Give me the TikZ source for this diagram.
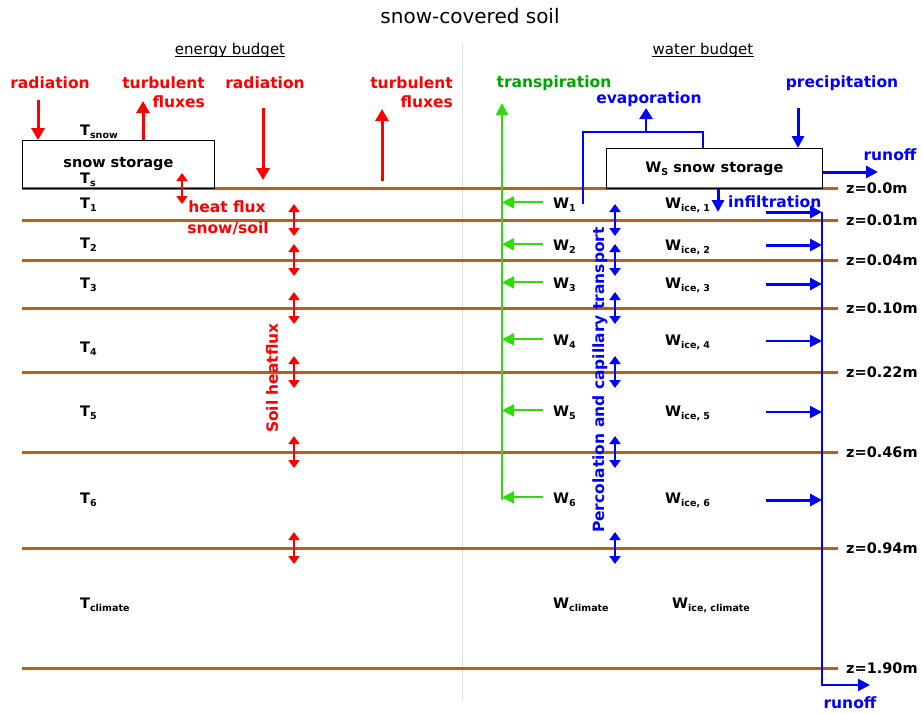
\documentclass[tikz,border=0pt]{standalone}
\usepackage{fontspec}
\setmainfont{DejaVu Sans}
\usetikzlibrary{arrows.meta,positioning}

\definecolor{soilbrown}{RGB}{181,96,28}
\definecolor{fluxred}{RGB}{255,0,0}
\definecolor{waterblue}{RGB}{0,0,255}
\definecolor{plantgreen}{RGB}{50,220,10}
\definecolor{labelgreen}{RGB}{0,165,0}

% small lowered index, as in T_1 or W_ice,1
\newcommand{\lowidx}[1]{\raisebox{-0.4ex}{\fontsize{9.5}{10}\selectfont #1}}

\begin{document}
\begin{tikzpicture}[x=1pt,y=-1pt,
	every node/.style={inner sep=0pt},
	blk/.style={font=\fontsize{14.5}{17}\selectfont\bfseries},
	redlbl/.style={text=fluxred,font=\fontsize{15.5}{19}\selectfont\bfseries,align=right},
	bluelbl/.style={text=waterblue,font=\fontsize{15.5}{19}\selectfont\bfseries},
	layer/.style={soilbrown,line width=3pt},
	heat/.style={fluxred,line width=3pt,-{Triangle[length=12pt,width=13pt]}},
	heatboth/.style={fluxred,line width=2pt,{Triangle[length=8pt,width=11pt]}-{Triangle[length=8pt,width=11pt]}},
	waterboth/.style={waterblue,line width=2pt,{Triangle[length=8pt,width=11pt]}-{Triangle[length=8pt,width=11pt]}},
	flow/.style={waterblue,line width=3pt,-{Triangle[length=12pt,width=12pt]}},
	thinflow/.style={waterblue,line width=2pt,-{Triangle[length=12pt,width=12pt]}},
	plant/.style={plantgreen,line width=2.2pt,-{Triangle[length=12pt,width=12pt]}},
	storage/.style={draw,line width=0.8pt,anchor=north west,blk}]

	\useasboundingbox (0,0) rectangle (923,713);

	% headings
	\node[font=\fontsize{20}{24}\selectfont] (title) at (470,16) {snow-covered soil};
	\node[font=\fontsize{15}{18}\selectfont] (ebud) at (230,50) {energy budget};
	\node[font=\fontsize{15}{18}\selectfont] (wbud) at (703,50) {water budget};
	\draw[line width=0.9pt] ([yshift=-2.5pt]ebud.base west) -- ([yshift=-2.5pt]ebud.base east);
	\draw[line width=0.9pt] ([yshift=-2.5pt]wbud.base west) -- ([yshift=-2.5pt]wbud.base east);

	% divider
	\draw[gray!25,line width=1pt] (462,44) -- (462,700);

	% soil layers and depths
	\foreach \y/\d [count=\i] in {188/0.0,220/0.01,260/0.04,308/0.10,372/0.22,452/0.46,548/0.94,668/1.90}{
		\draw[layer] (22,\y) -- (838,\y);
		\node[blk,anchor=west] (z\i) at (846,\y) {z=\d m};
	}

	% snow storages
	\node[storage,minimum width=192,minimum height=48] (snowL) at (22,140) {snow storage};
	\node[storage,minimum width=216,minimum height=40] (snowR) at (606,148)
		{W\lowidx{S} snow storage};

	% temperatures
	\node[blk,anchor=base west] (Tsnow) at (80,135) {T\lowidx{snow}};
	\node[blk,anchor=base west] (Ts) at (80,183) {T\lowidx{s}};
	\foreach \k/\y in {1/208,2/248,3/288,4/352,5/416,6/503}
		\node[blk,anchor=base west] (T\k) at (80,\y) {T\lowidx{\k}};
	\node[blk,anchor=base west] (Tclim) at (80,608) {T\lowidx{climate}};

	% water contents
	\foreach \k/\y in {1/208,2/250,3/288,4/345,5/416,6/503}{
		\node[blk,anchor=base west] (W\k) at (553,\y) {W\lowidx{\k}};
		\node[blk,anchor=base west] (Wice\k) at (665,\y) {W\lowidx{ice, \k}};
	}
	\node[blk,anchor=base west] (Wclim) at (553,608) {W\lowidx{climate}};
	\node[blk,anchor=base west] (Wiceclim) at (672,608) {W\lowidx{ice, climate}};

	% energy fluxes
	\node[redlbl] (radL) at (50,83) {radiation};
	\node[redlbl,anchor=east] (turbL) at (205,92) {turbulent\\fluxes};
	\node[redlbl] (radR) at (265,83) {radiation};
	\node[redlbl,anchor=east] (turbR) at (453,92) {turbulent\\fluxes};
	\coordinate (radLtop) at (38,100);
	\coordinate (turbLtop) at (143,101);
	\draw[heat] (radLtop) -- (radLtop |- snowL.north);
	\draw[heat] (turbLtop |- snowL.north) -- (turbLtop);
	\draw[heat] (263,108) -- (263,180);
	\draw[heat] (382,181) -- (382,109);
	\draw[heatboth] (182,173) -- (182,204);
	\node[redlbl] (hflux) at (227,207) {heat flux};
	\node[redlbl] (hsoil) at (228,228) {snow/soil};
	\foreach \y in {220,260,308,372,452,548}{
		\draw[heatboth] (294,\y-16) -- (294,\y+16);
		\draw[waterboth] (615,\y-16) -- (615,\y+16);
	}
	\node[redlbl,rotate=90] (soilhf) at (272,378) {Soil heatflux};

	% transpiration
	\node[text=labelgreen,font=\fontsize{15.5}{19}\selectfont\bfseries] (transp) at (554,83) {transpiration};
	\coordinate (rootbot) at (502,500);
	\coordinate (roottop) at (502,103);
	\draw[plant] (rootbot) -- (roottop);
	\foreach \k in {1,...,6}{
		\coordinate (g\k) at ([xshift=-10pt,yshift=2pt]W\k.west);
		\draw[plant] (g\k) -- (rootbot |- g\k);
	}

	% evaporation
	\node[bluelbl] (evap) at (649,99) {evaporation};
	\coordinate (evapL) at (583,204);
	\coordinate (evapR) at (703,132);
	\coordinate (evapup) at (646,132);
	\draw[waterblue,line width=2.6pt] (evapL) |- (evapR) -- (evapR |- snowR.north);
	\draw[waterblue,line width=2.6pt,-{Triangle[length=11pt,width=13pt]}] (evapup) -- ++(0,-24);

	% precipitation, runoff, infiltration
	\node[bluelbl] (precip) at (842,83) {precipitation};
	\coordinate (preciptop) at (798,108);
	\draw[flow] (preciptop) -- (preciptop |- snowR.north);
	\node[bluelbl] (runtop) at (890,155) {runoff};
	\coordinate (runtopend) at (878,172);
	\draw[flow] (snowR.east |- runtopend) -- (runtopend);
	\coordinate (infilbot) at (718,212);
	\draw[flow] (infilbot |- snowR.south) -- (infilbot);
	\node[bluelbl,anchor=west] (infil) at (728,202) {infiltration};

	% lateral outflow to drainage
	\coordinate (drain) at (822,212);
	\coordinate (drainbot) at (822,685);
	\coordinate (drainend) at (870,685);
	\foreach \y/\s in {212/flow,245/flow,284/flow,341/thinflow,412/thinflow,500/flow}{
		\coordinate (out) at (766,\y);
		\draw[\s] (out) -- (drain |- out);
	}
	\draw[waterblue,line width=2.2pt,-{Triangle[length=12pt,width=12pt]}] (drain) -- (drainbot) -- (drainend);
	\node[bluelbl] (runbot) at (850,703) {runoff};

	\node[bluelbl,rotate=90] (perc) at (600,380) {Percolation and capillary transport};

\end{tikzpicture}
\end{document}
